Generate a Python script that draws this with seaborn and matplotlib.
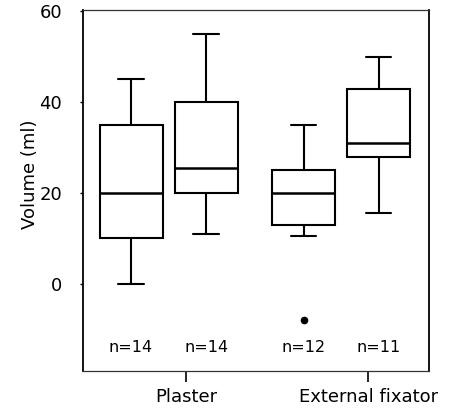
# Volume by treatment group, boxplots with n per box
import pandas as pd
import seaborn as sns
import matplotlib.pyplot as plt

# values: min whisker, Q1, median, Q3, max whisker (+ outliers)
plaster_a = [0, 10, 20, 35, 45]
plaster_b = [11, 20, 25.5, 40, 55]
fixator_a = [-8, 10.5, 13, 13, 20, 20, 25, 25, 35]
fixator_b = [15.5, 28, 31, 43, 50]

box_pos = [1.0, 2.0, 3.3, 4.3]
n_labels = ["n=14", "n=14", "n=12", "n=11"]
groups = ["Plaster", "External fixator"]
group_pos = [1.73, 4.16]

rows = []
for pos, vals in zip(box_pos, [plaster_a, plaster_b, fixator_a, fixator_b]):
    for v in vals:
        rows.append({"pos": pos, "volume": v})
df = pd.DataFrame(rows)

sns.set_style("ticks")
plt.rcParams['font.family'] = ['DejaVu Sans']
plt.rcParams['text.color'] = 'black'
plt.rcParams['axes.labelcolor'] = 'black'
plt.rcParams['xtick.color'] = 'black'
plt.rcParams['ytick.color'] = 'black'

fig = plt.figure(figsize=(4.5, 4.08), dpi=100)
ax = fig.add_axes([83 / 450, 37 / 408, 346 / 450, 361 / 408])

sns.boxplot(data=df, x="pos", y="volume", native_scale=True, ax=ax,
            width=0.84, color="white", linecolor="black", linewidth=1.5,
            whis=1.5, capwidths=0.34,
            medianprops=dict(linewidth=1.8, color="black"),
            flierprops=dict(marker="o", markerfacecolor="black",
                            markeredgecolor="black", markersize=4.5))

# n under each box
for pos, lab in zip(box_pos, n_labels):
    ax.text(pos, -14, lab, ha="center", va="center", fontsize=11.5)

ax.set_xlim(0.36, 4.97)
ax.set_ylim(-19.2, 60.3)
ax.set_yticks([0, 20, 40, 60])
ax.set_yticklabels(["0", "20", "40", "60"], fontsize=13)
ax.set_xticks(group_pos)
ax.set_xticklabels(groups, fontsize=13)
ax.tick_params(axis="x", length=8, width=1.2, pad=4)
ax.tick_params(axis="y", length=2, width=1, pad=13)

ax.set_xlabel("")
ax.set_ylabel("Volume (ml)", fontsize=13)
ax.yaxis.set_label_coords(-0.127, 0.546)

for side in ["left", "right"]:
    ax.spines[side].set_linewidth(1.3)
    ax.spines[side].set_color("black")
for side in ["top", "bottom"]:
    ax.spines[side].set_linewidth(0.9)
    ax.spines[side].set_color("#333333")

plt.savefig("out.png", dpi=100)
